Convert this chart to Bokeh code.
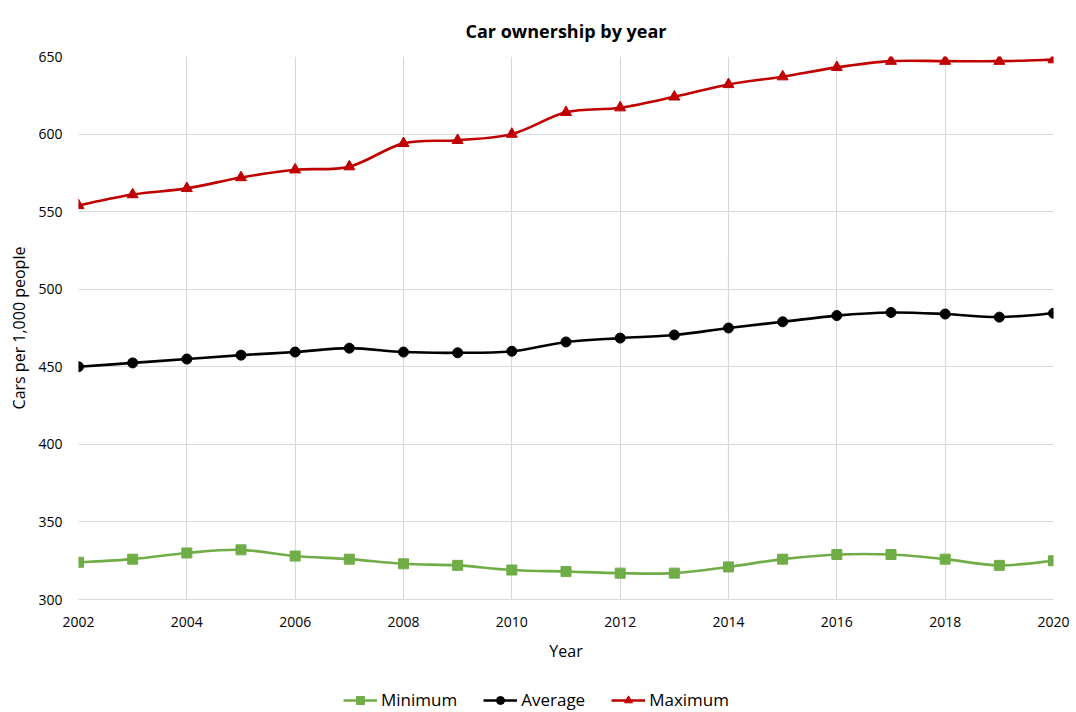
from bokeh.plotting import figure
from bokeh.layouts import column
from bokeh.models import ColumnDataSource, Legend, LegendItem, FixedTicker, Range1d
from bokeh.embed import file_html
from bokeh.resources import INLINE
import numpy as np

years = list(range(2002, 2021))
minimum = [324, 326, 330, 332, 328, 326, 323, 322, 319, 318, 317, 317, 321, 326, 329, 329, 326, 322, 325]
average = [450, 452.5, 455, 457.5, 459.5, 462, 459.5, 459, 460, 466, 468.5, 470.5, 475, 479, 483, 485, 484, 482, 484.5]
maximum = [554, 561, 565, 572, 577, 579, 594, 596, 600, 614, 617, 624, 632, 637, 643, 647, 647, 647, 648]

FONT = "Open Sans"

p = figure(width=1076, height=665, output_backend="svg", toolbar_location=None,
           x_range=Range1d(2002, 2020), y_range=Range1d(300, 650),
           min_border_left=78, min_border_right=23, min_border_top=56, min_border_bottom=66)
p.outline_line_color = None
p.title.text = "Car ownership by year"
p.title.align = "center"
p.title.text_font = FONT
p.title.text_font_size = "18px"
p.title.text_font_style = "bold"
p.title.text_color = "#000000"
p.title.standoff = 28

p.xaxis.ticker = FixedTicker(ticks=list(range(2002, 2021, 2)))
p.yaxis.ticker = FixedTicker(ticks=list(range(300, 651, 50)))
for ax in (p.xaxis[0], p.yaxis[0]):
    ax.major_tick_line_color = None
    ax.minor_tick_line_color = None
    ax.major_label_text_font = FONT
    ax.major_label_text_font_size = "14px"
    ax.major_label_text_color = "#000000"
    ax.axis_label_text_font = FONT
    ax.axis_label_text_font_size = "16px"
    ax.axis_label_text_font_style = "normal"
    ax.axis_label_text_color = "#000000"
p.xaxis.axis_line_color = "#d9d9d9"
p.yaxis.axis_line_color = None
p.xaxis.axis_label = "Year"
p.yaxis.axis_label = "Cars per 1,000 people"
p.xaxis.major_label_standoff = 11
p.xaxis.axis_label_standoff = 10
p.yaxis.major_label_standoff = 10
p.xgrid.grid_line_color = "#d9d9d9"
p.ygrid.grid_line_color = "#d9d9d9"
p.xgrid.grid_line_width = 1.2
p.ygrid.grid_line_width = 1.2


def smooth_segments(xs, ys):
    xs = np.asarray(xs, float)
    ys = np.asarray(ys, float)
    n = len(xs)
    x0, y0, x1, y1, cx0, cy0, cx1, cy1 = ([] for _ in range(8))
    for i in range(n - 1):
        pm = max(i - 1, 0)
        pp = min(i + 2, n - 1)
        x0.append(xs[i]); y0.append(ys[i])
        x1.append(xs[i + 1]); y1.append(ys[i + 1])
        cx0.append(xs[i] + (xs[i + 1] - xs[pm]) / 6)
        cy0.append(ys[i] + (ys[i + 1] - ys[pm]) / 6)
        cx1.append(xs[i + 1] - (xs[pp] - xs[i]) / 6)
        cy1.append(ys[i + 1] - (ys[pp] - ys[i]) / 6)
    return dict(x0=x0, y0=y0, x1=x1, y1=y1, cx0=cx0, cy0=cy0, cx1=cx1, cy1=cy1)


# legend strip below the chart
lf = figure(width=1076, height=47, output_backend="svg", toolbar_location=None,
            x_axis_type=None, y_axis_type=None, x_range=Range1d(0, 1), y_range=Range1d(0, 1),
            min_border_left=0, min_border_right=0, min_border_top=0, min_border_bottom=0)
lf.outline_line_color = None
lf.xgrid.visible = False
lf.ygrid.visible = False

series = [
    ("Minimum", minimum, "#70ad47", "square", 10),
    ("Average", average, "#000000", "circle", 10),
    ("Maximum", maximum, "#c00000", "triangle", 11),
]
items = []
for name, vals, color, marker, size in series:
    seg = ColumnDataSource(smooth_segments(years, vals))
    p.bezier(x0="x0", y0="y0", x1="x1", y1="y1", cx0="cx0", cy0="cy0", cx1="cx1", cy1="cy1",
             source=seg, line_color=color, line_width=2.6)
    src = ColumnDataSource(dict(x=years, y=vals))
    p.scatter("x", "y", source=src, marker=marker, size=size, fill_color=color, line_color=color)
    empty = ColumnDataSource(dict(x=[np.nan], y=[np.nan]))
    lg = lf.line("x", "y", source=empty, line_color=color, line_width=2.6)
    sc = lf.scatter("x", "y", source=empty, marker=marker, size=size, fill_color=color, line_color=color)
    items.append(LegendItem(label=name, renderers=[lg, sc]))

legend = Legend(items=items, orientation="horizontal", location=(265, 1),
                label_text_font=FONT, label_text_font_size="17px", label_text_color="#000000",
                border_line_color=None, background_fill_alpha=0, glyph_width=34,
                spacing=26, label_standoff=4, padding=3, margin=0)
lf.add_layout(legend)

layout = column(p, lf, spacing=0)
open("out.html", "w").write(file_html(layout, INLINE))
